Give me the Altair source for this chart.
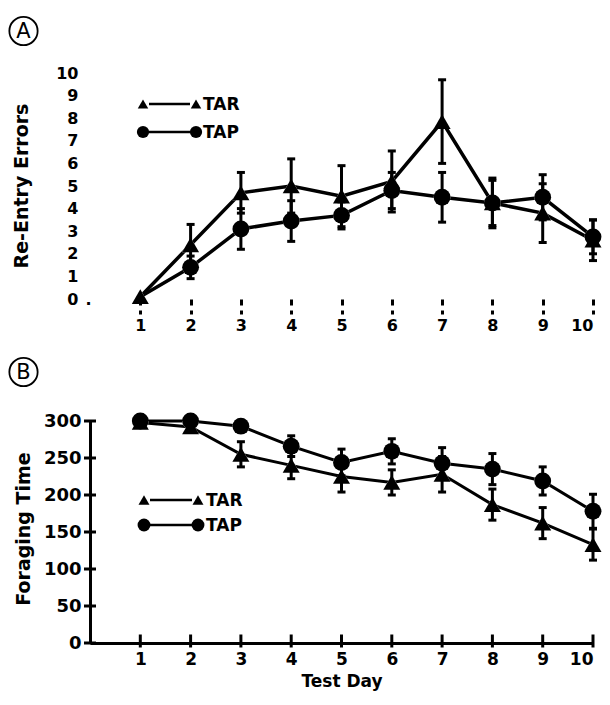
import altair as alt
import pandas as pd

# ---------------- data ----------------
days = list(range(1, 11))
groups = ["TAR", "TAP"]

# Panel A: Re-Entry Errors (mean and SE)
a_tar = [0.1, 2.4, 4.7, 5.0, 4.55, 5.2, 7.85, 4.25, 3.8, 2.6]
a_tar_se = [0.0, 0.9, 0.9, 1.2, 1.35, 1.35, 1.85, 1.1, 1.3, 0.9]
a_tap = [0.1, 1.4, 3.1, 3.45, 3.7, 4.8, 4.5, 4.25, 4.5, 2.75]
a_tap_se = [0.0, 0.5, 0.9, 0.9, 0.6, 0.8, 1.1, 1.0, 1.0, 0.75]

# Panel B: Foraging Time (mean and SE)
b_tar = [298, 292, 255, 240, 225, 217, 228, 187, 162, 133]
b_tar_se = [0, 0, 17, 18, 21, 17, 24, 21, 21, 21]
b_tap = [300, 300, 293, 266, 244, 259, 243, 235, 219, 178]
b_tap_se = [0, 0, 0, 14, 18, 17, 21, 21, 19, 23]

a_ticks = list(range(0, 11))
b_ticks = [0, 50, 100, 150, 200, 250, 300]

FONT = "DejaVu Sans"
W = 503
HA = 226
HB = 222


def long_df(tar, tar_se, tap, tap_se):
    rows = []
    for g, m, s in (("TAR", tar, tar_se), ("TAP", tap, tap_se)):
        for d, v, e in zip(days, m, s):
            rows.append({"day": d, "group": g, "mean": v,
                         "lo": v - e, "hi": v + e, "se": e})
    return pd.DataFrame(rows)


dfa = long_df(a_tar, a_tar_se, a_tap, a_tap_se)
dfb = long_df(b_tar, b_tar_se, b_tap, b_tap_se)
one = pd.DataFrame({"k": [0]})

shape_scale = alt.Scale(domain=groups, range=["triangle-up", "circle"])


def legend_layers(x1, x2, xt, rows, ys, sizes):
    layers = []
    for (g, shp), ly, sz in zip(rows, ys, sizes):
        layers.append(alt.Chart(one).mark_rule(color="black", strokeWidth=2.5).encode(
            x=alt.value(x1 + 6), x2=alt.value(x2 - 6), y=alt.value(ly)))
        for xx in (x1, x2):
            layers.append(alt.Chart(one).mark_point(
                shape=shp, filled=True, color="black", size=sz, opacity=1).encode(
                x=alt.value(xx), y=alt.value(ly)))
        layers.append(alt.Chart(one).mark_text(
            text=g, align="left", baseline="middle", fontSize=17,
            fontWeight="bold", font=FONT, color="black").encode(
            x=alt.value(xt), y=alt.value(ly + 1)))
    return layers


def circle_label(letter, cx, cy):
    return [
        alt.Chart(one).mark_point(shape="circle", size=800, filled=False,
                                  color="black", strokeWidth=1.8, opacity=1).encode(
            x=alt.value(cx), y=alt.value(cy)),
        alt.Chart(one).mark_text(text=letter, fontSize=21, font=FONT,
                                 baseline="middle", align="center", color="black").encode(
            x=alt.value(cx), y=alt.value(cy + 1)),
    ]


def data_layers(df, xscale, xaxis, yscale, yaxis, line_w, psize, hsize, first_circle_hidden):
    def X(f):
        return alt.X(f, scale=xscale, axis=xaxis)

    def Y(f):
        return alt.Y(f, scale=yscale, axis=yaxis)

    base = alt.Chart(df)
    lines = base.mark_line(color="black", strokeWidth=line_w).encode(
        x=X("day:Q"), y=Y("mean:Q"), detail="group:N")
    pts_df = base
    if first_circle_hidden:
        pts_df = base.transform_filter("datum.day > 1 || datum.group == 'TAR'")

    def enc(sizes):
        return dict(
            x=X("day:Q"), y=Y("mean:Q"),
            shape=alt.Shape("group:N", scale=shape_scale, legend=None),
            size=alt.Size("group:N", scale=alt.Scale(domain=groups, range=sizes), legend=None))

    # white under-symbol that opens a small gap in the lines around each marker
    halo = pts_df.mark_point(filled=True, color="white", opacity=1, clip=True).encode(**enc(hsize))
    err = base.transform_filter("datum.se > 0")
    rules = err.mark_rule(color="black", strokeWidth=3).encode(
        x=X("day:Q"), y=Y("lo:Q"), y2="hi:Q")
    cap_hi = err.mark_tick(color="black", orient="horizontal", size=8,
                           thickness=3, opacity=1).encode(x=X("day:Q"), y=Y("hi:Q"))
    cap_lo = err.mark_tick(color="black", orient="horizontal", size=8,
                           thickness=3, opacity=1).encode(x=X("day:Q"), y=Y("lo:Q"))
    pts_top = pts_df.mark_point(filled=True, color="black", opacity=1).encode(**enc(psize))
    return [lines, halo, rules, cap_hi, cap_lo, pts_top]


# ---------------- panel A ----------------
xs_a = alt.Scale(domain=[0, 10], nice=False, zero=False)
ys_a = alt.Scale(domain=[0, 10], nice=False, zero=False)
ax_xa = alt.Axis(values=days, domain=False, ticks=True, tickDash=[6, 5],
                 tickSize=15, tickWidth=3, tickColor="black",
                 labelFontSize=16, labelFont=FONT, labelFontWeight="bold",
                 labelColor="black", labelPadding=3, labelFlush=True,
                 grid=False, title=None)
ax_ya = alt.Axis(values=a_ticks, domain=False, ticks=False,
                 labelFontSize=16, labelFont=FONT, labelFontWeight="bold",
                 labelColor="black", labelPadding=12, grid=False, title=None)

panel_a_layers = data_layers(dfa, xs_a, ax_xa, ys_a, ax_ya, 3.5,
                             [150, 145], [290, 285], True)
panel_a_layers += legend_layers(53, 106, 113,
                                [("TAR", "triangle-up"), ("TAP", "circle")],
                                [31, 59], [110, 150])
panel_a_layers += circle_label("A", -66.5, -42)
# the trailing period of the "0." label
panel_a_layers.append(
    alt.Chart(one).mark_text(text=".", fontSize=16, fontWeight="bold", font=FONT,
                             align="center", baseline="alphabetic", color="black").encode(
        x=alt.value(-1.5), y=alt.value(HA + 6)))
panel_a_layers.append(
    alt.Chart(one).mark_text(text="Re-Entry Errors", angle=270, fontSize=19,
                             fontWeight="bold", font=FONT, align="center",
                             baseline="middle", color="black").encode(
        x=alt.value(-68), y=alt.value(113)))

panel_a = alt.layer(*panel_a_layers).properties(width=W, height=HA)

# ---------------- panel B ----------------
xs_b = alt.Scale(domain=[0, 10], nice=False, zero=False)
ys_b = alt.Scale(domain=[0, 300], nice=False, zero=False)
ax_xb = alt.Axis(values=days, domain=True, domainWidth=3, domainColor="black",
                 ticks=False, labelFontSize=17, labelFont=FONT,
                 labelFontWeight="bold", labelColor="black", labelPadding=8,
                 labelFlush=True, grid=False, title="Test Day",
                 titleFont=FONT, titleFontSize=17, titleFontWeight="bold",
                 titleColor="black", titlePadding=6)
ax_yb = alt.Axis(values=b_ticks, domain=True, domainWidth=3, domainColor="black",
                 ticks=False, labelFontSize=18, labelFont=FONT,
                 labelFontWeight="bold", labelColor="black", labelPadding=9,
                 grid=False, title=None)

panel_b_layers = data_layers(dfb, xs_b, ax_xb, ys_b, ax_yb, 3,
                             [170, 210], [324, 380], False)
tick_df = pd.DataFrame({"v": b_ticks})
day_df = pd.DataFrame({"day": days})
panel_b_layers.append(
    alt.Chart(tick_df).mark_tick(orient="horizontal", size=12, thickness=3,
                                 color="black", opacity=1).encode(
        y=alt.Y("v:Q", scale=ys_b, axis=ax_yb), x=alt.value(0)))
panel_b_layers.append(
    alt.Chart(day_df).mark_tick(orient="vertical", size=13, thickness=3,
                                color="black", opacity=1).encode(
        x=alt.X("day:Q", scale=xs_b, axis=ax_xb), y=alt.value(HB - 2)))
panel_b_layers += legend_layers(54, 108, 116,
                                [("TAR", "triangle-up"), ("TAP", "circle")],
                                [79, 104], [120, 165])
panel_b_layers += circle_label("B", -66.5, -49)
panel_b_layers.append(
    alt.Chart(one).mark_text(text="Foraging Time", angle=270, fontSize=19,
                             fontWeight="bold", font=FONT, align="center",
                             baseline="middle", color="black").encode(
        x=alt.value(-66), y=alt.value(108)))

panel_b = alt.layer(*panel_b_layers).properties(width=W, height=HB)

chart = alt.vconcat(panel_a, panel_b, spacing=122, bounds="flush").properties(
    padding={"top": 5, "left": -3, "right": 0, "bottom": 3}
).configure(font=FONT).configure_view(stroke=None)

chart.save("out.html", embed_options={"renderer": "svg", "actions": False})
